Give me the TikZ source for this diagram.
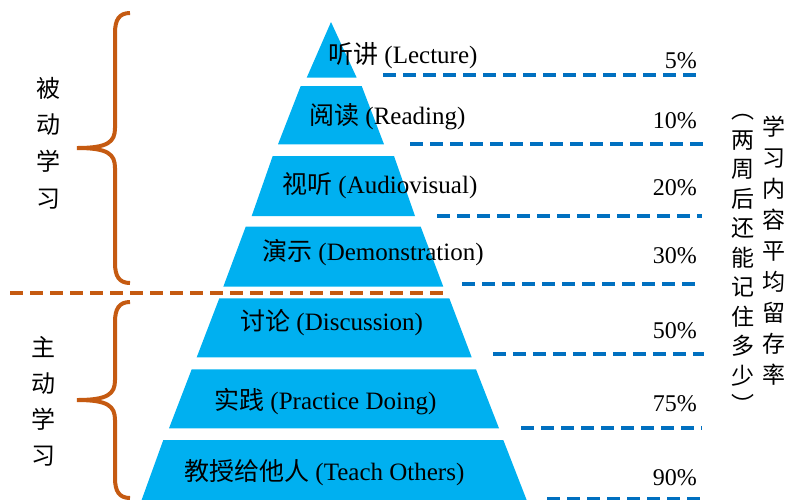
\documentclass[tikz,border=0pt]{standalone}
\usepackage{fontspec}
\setmainfont{Liberation Serif}
\newfontfamily\cjk{Noto Sans CJK SC}
\definecolor{tierblue}{HTML}{00B0F0}
\definecolor{dashblue}{HTML}{0070C0}
\definecolor{braceorange}{HTML}{C55A11}
\begin{document}
\begin{tikzpicture}[x=1pt,y=-1pt,
  tier/.style={fill=tierblue},
  tierlabel/.style={font=\fontsize{25}{29}\selectfont, inner sep=0pt, anchor=base west},
  pct/.style={font=\fontsize{24}{28}\selectfont, inner sep=0pt, anchor=base east},
  bluedash/.style={draw=dashblue, line width=4pt, dash pattern=on 13pt off 7pt},
  orangedash/.style={draw=braceorange, line width=4pt, dash pattern=on 13pt off 7pt},
  bracepath/.style={draw=braceorange, line width=4pt},
]
\useasboundingbox (0,0) rectangle (789,499);
\clip (0,0) rectangle (789,499);

% pyramid tiers
\fill[tier] (331,22) -- (356.7,77.7) -- (306.7,77.7) -- cycle;
\fill[tier] (300.7,86) -- (361.7,86) -- (384,144.3) -- (278,144.3) -- cycle;
\fill[tier] (272.7,156) -- (394,156) -- (415,216) -- (251.7,216) -- cycle;
\fill[tier] (245.7,226.7) -- (420.7,226.7) -- (443.3,286.7) -- (223.3,286.7) -- cycle;
\fill[tier] (219.3,298.3) -- (449.3,298.3) -- (471.7,357.3) -- (196.7,357.3) -- cycle;
\fill[tier] (191.7,369.3) -- (476,369.3) -- (499,428.3) -- (169,428.3) -- cycle;
\fill[tier] (163.3,440) -- (503.3,440) -- (528.6,505) -- (139.8,505) -- cycle;

% tier labels
\node[tierlabel] (t1) at (328,63) {{\cjk 听讲} (Lecture)};
\node[tierlabel] (t2) at (309,124) {{\cjk 阅读} (Reading)};
\node[tierlabel] (t3) at (282,193) {{\cjk 视听} (Audiovisual)};
\node[tierlabel] (t4) at (262,260) {{\cjk 演示} (Demonstration)};
\node[tierlabel] (t5) at (240,330) {{\cjk 讨论} (Discussion)};
\node[tierlabel] (t6) at (214,409) {{\cjk 实践} (Practice Doing)};
\node[tierlabel] (t7) at (184,480) {{\cjk 教授给他人} (Teach Others)};

% blue dashed lines
\draw[bluedash] (383,74.5) -- (702,74.5);
\draw[bluedash] (410,144) -- (703,144);
\draw[bluedash] (437,216) -- (702,216);
\draw[bluedash] (462,284.3) -- (702,284.3);
\draw[bluedash] (493,354.3) -- (704,354.3);
\draw[bluedash] (521,427.7) -- (702,427.7);
\draw[bluedash] (547,499) -- (702,499);

% percentages
\node[pct] (p1) at (697,68) {5\%};
\node[pct] (p2) at (697,128) {10\%};
\node[pct] (p3) at (697,195) {20\%};
\node[pct] (p4) at (697,263) {30\%};
\node[pct] (p5) at (697,338) {50\%};
\node[pct] (p6) at (697,411.7) {75\%};
\node[pct] (p7) at (697,485) {90\%};

% orange separator
\draw[orangedash] (10,292.7) -- (443,292.7);

% braces
\draw[bracepath] (130,13) .. controls (119,13) and (115,20) .. (115,33)
  -- (115,128) .. controls (115,142) and (108,148) .. (77,148)
  .. controls (108,148) and (115,154) .. (115,168)
  -- (115,263) .. controls (115,276) and (119,283) .. (130,283);
\draw[bracepath] (130,302) .. controls (119,302) and (115,309) .. (115,322)
  -- (115,380) .. controls (115,394) and (108,400) .. (77,400)
  .. controls (108,400) and (115,406) .. (115,420)
  -- (115,478) .. controls (115,491) and (119,498) .. (130,498);

% left labels
\node[font=\fontsize{24}{36.7}\cjk, align=center, inner sep=0pt] (passive) at (48,143) {被\\动\\学\\习};
\node[font=\fontsize{24}{36}\cjk, align=center, inner sep=0pt] (active) at (43,401) {主\\动\\学\\习};

% right vertical labels
\node[font=\fontsize{23}{31}\cjk, align=center, inner sep=0pt] (retain) at (773.5,251) {学\\习\\内\\容\\平\\均\\留\\存\\率};
\node[font=\fontsize{23}{29.5}\cjk, align=center, inner sep=0pt] (twoweeks) at (742.5,264) {︵\\两\\周\\后\\还\\能\\记\\住\\多\\少\\︶};
\end{tikzpicture}
\end{document}
